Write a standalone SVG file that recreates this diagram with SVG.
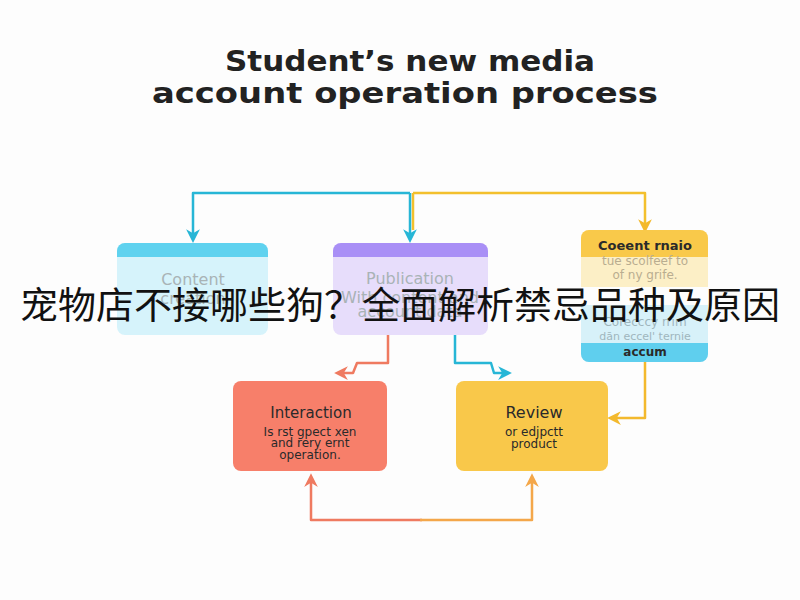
<svg xmlns="http://www.w3.org/2000/svg" width="800" height="600" viewBox="0 0 800 600">
<defs>
<style>
.title{font-family:"DejaVu Sans","Liberation Sans",sans-serif;font-weight:700;font-size:29px;fill:#222;text-anchor:middle}
.lbl{font-family:"DejaVu Sans","Liberation Sans",sans-serif;text-anchor:middle}
.faded{fill:#a9b3b6;font-size:16px}
.dark{fill:#2a2a2a}
.cn{font-family:"Noto Sans CJK SC","Noto Sans",sans-serif;font-size:37px;fill:#111;text-anchor:middle}
.ln{fill:none;stroke-width:2.5;stroke-linejoin:round}
</style>
<marker id="aC" viewBox="0 0 10 10" refX="5" refY="5" markerWidth="5.5" markerHeight="5.5" orient="auto"><path d="M0,0 L10,5 L0,10 L3,5 Z" fill="#27b6d6"/></marker>
<marker id="aY" viewBox="0 0 10 10" refX="5" refY="5" markerWidth="5.5" markerHeight="5.5" orient="auto"><path d="M0,0 L10,5 L0,10 L3,5 Z" fill="#f3b92d"/></marker>
<marker id="aO" viewBox="0 0 10 10" refX="5" refY="5" markerWidth="5.5" markerHeight="5.5" orient="auto"><path d="M0,0 L10,5 L0,10 L3,5 Z" fill="#ef7a60"/></marker>
<marker id="aA" viewBox="0 0 10 10" refX="5" refY="5" markerWidth="5.5" markerHeight="5.5" orient="auto"><path d="M0,0 L10,5 L0,10 L3,5 Z" fill="#f4a74a"/></marker>
</defs>
<rect width="800" height="600" fill="#fdfdfd"/>
<g id="title">
<text class="title" x="410" y="71" textLength="370" lengthAdjust="spacingAndGlyphs">Student’s new media</text>
<text class="title" x="405" y="103" textLength="506" lengthAdjust="spacingAndGlyphs">account operation process</text>
</g>
<g id="connectors">
<path class="ln" stroke="#f3c02d" d="M413,193 H645 V226" marker-end="url(#aY)"/>
<path class="ln" stroke="#f3c02d" d="M413,193 V230"/>
<path class="ln" stroke="#27b6d6" d="M410,193 H193 V236" marker-end="url(#aC)"/>
<path class="ln" stroke="#27b6d6" d="M410,193 V236" marker-end="url(#aC)"/>
<path class="ln" stroke="#f3b92d" d="M645,362 V418 H614" marker-end="url(#aY)"/>
<path class="ln" stroke="#ef7a60" d="M388,335 V363 H357 L353,373 H341" marker-end="url(#aO)"/>
<path class="ln" stroke="#27b6d6" d="M455,335 V363 H491 L494,373 H505" marker-end="url(#aC)"/>
<path class="ln" stroke="#ef7a60" d="M422,520 H311 V480" marker-end="url(#aO)"/>
<path class="ln" stroke="#f4a74a" d="M420,520 H532 V480" marker-end="url(#aA)"/>
</g>
<g id="content">
<rect x="117" y="243" width="151" height="92" rx="8" fill="#d6f3fb"/>
<path d="M117,257 V251 a8,8 0 0 1 8,-8 H260 a8,8 0 0 1 8,8 V257 Z" fill="#5fd2ef"/>
<text class="lbl faded" x="193" y="285">Content</text>
<text class="lbl faded" x="193" y="304" font-size="14">creation</text>
</g>
<g id="publication">
<rect x="333" y="243" width="155" height="92" rx="8" fill="#e7ddfb"/>
<path d="M333,257 V251 a8,8 0 0 1 8,-8 H480 a8,8 0 0 1 8,8 V257 Z" fill="#a98ff6"/>
<text class="lbl faded" x="410" y="284" fill="#a8a4b4">Publication</text>
<text class="lbl faded" x="410" y="303" font-size="12">With content and</text>
<text class="lbl faded" x="410" y="317" font-size="12">account data</text>
</g>
<g id="media">
<path d="M581,287 V238 a8,8 0 0 1 8,-8 H700 a8,8 0 0 1 8,8 V287 Z" fill="#fcefc6"/>
<path d="M581,257 V238 a8,8 0 0 1 8,-8 H700 a8,8 0 0 1 8,8 V257 Z" fill="#f9c94a"/>
<path d="M581,305 H708 V354 a8,8 0 0 1 -8,8 H589 a8,8 0 0 1 -8,-8 Z" fill="#d7f1f9"/>
<path d="M581,343 H708 V354 a8,8 0 0 1 -8,8 H589 a8,8 0 0 1 -8,-8 Z" fill="#5fcfee"/>
<text class="lbl dark" x="645" y="250" font-size="13" font-weight="700">Coeent rnaio</text>
<text class="lbl" x="645" y="265" font-size="12" fill="#b9ad90">tue scolfeef to</text>
<text class="lbl" x="645" y="279" font-size="12" fill="#b9ad90">of ny grife.</text>
<text class="lbl" x="645" y="326" font-size="12" fill="#9fb6bd">Corecccy rrim</text>
<text class="lbl" x="645" y="340" font-size="11" fill="#9fb6bd">dān eccel' ternie</text>
<text class="lbl dark" x="645" y="356" font-size="12" font-weight="700">accum</text>
</g>
<g id="interaction">
<rect x="233" y="381" width="154" height="90" rx="8" fill="#f77f6a"/>
<text class="lbl dark" x="311" y="418" font-size="15">Interaction</text>
<text class="lbl dark" x="310" y="436" font-size="12">Is rst gpect xen</text>
<text class="lbl dark" x="310" y="447" font-size="12">and rery ernt</text>
<text class="lbl dark" x="310" y="459" font-size="12">operation.</text>
</g>
<g id="review">
<rect x="456" y="381" width="152" height="90" rx="8" fill="#f9c84a"/>
<text class="lbl dark" x="534" y="418" font-size="16">Review</text>
<text class="lbl dark" x="534" y="436" font-size="12">or edjpctt</text>
<text class="lbl dark" x="534" y="448" font-size="12">product</text>
</g>
<text class="cn" x="400" y="319" textLength="760" lengthAdjust="spacingAndGlyphs">宠物店不接哪些狗？全面解析禁忌品种及原因</text>
</svg>
